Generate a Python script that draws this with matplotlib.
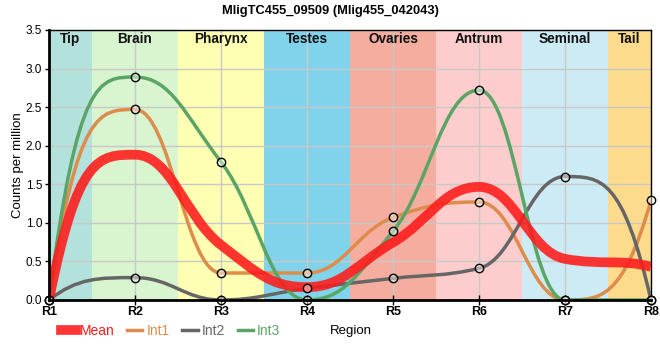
import numpy as np
import matplotlib.pyplot as plt
from matplotlib.lines import Line2D
from matplotlib.path import Path
from matplotlib.patches import PathPatch

plt.rcParams['font.family'] = ['Liberation Sans', 'DejaVu Sans']

regions = ['R1', 'R2', 'R3', 'R4', 'R5', 'R6', 'R7', 'R8']
int1 = [0.0, 2.47, 0.35, 0.35, 1.07, 1.27, 0.0, 1.29]
int2 = [0.0, 0.29, 0.0, 0.15, 0.28, 0.41, 1.60, 0.0]
int3 = [0.0, 2.89, 1.79, 0.0, 0.89, 2.72, 0.0, 0.0]

tissues = ['Tip', 'Brain', 'Pharynx', 'Testes', 'Ovaries', 'Antrum', 'Seminal', 'Tail']
tissue_colors = ['#b3e2dd', '#d8f5cf', '#ffffb3', '#80d3eb', '#f4ad9e',
                 '#fdcccc', '#cdebf4', '#fddb8c']

series_colors = {'Mean': '#ff1a1a', 'Int1': '#de8c4c', 'Int2': '#666666', 'Int3': '#5aa566'}


def smooth_path(xs, ys, a=0.42):
    # cubic bezier through the points, monotone slopes, long flat handles
    xs = np.asarray(xs, float)
    ys = np.asarray(ys, float)
    h = np.diff(xs)
    d = np.diff(ys) / h
    m = np.zeros_like(ys)
    for i in range(1, len(ys) - 1):
        if d[i - 1] * d[i] > 0:
            p = (d[i - 1] * h[i] + d[i] * h[i - 1]) / (h[i - 1] + h[i])
            m[i] = (np.sign(d[i - 1]) + np.sign(d[i])) * min(abs(d[i - 1]), abs(d[i]), 0.5 * abs(p))
    verts = [(xs[0], ys[0])]
    codes = [Path.MOVETO]
    last = len(xs) - 2
    for i in range(len(xs) - 1):
        x0, y0, x1, y1 = xs[i], ys[i], xs[i + 1], ys[i + 1]
        if i == 0:
            c1 = (x0 + h[i] / 3, y1)
        else:
            c1 = (x0 + a * h[i], y0 + a * h[i] * m[i])
        if i == last:
            c2 = (x1 - h[i] / 3, y0)
        else:
            c2 = (x1 - a * h[i], y1 - a * h[i] * m[i + 1])
        verts += [c1, c2, (x1, y1)]
        codes += [Path.CURVE4] * 3
    return Path(verts, codes)


x = np.arange(1, len(regions) + 1)
mean = np.mean([int1, int2, int3], axis=0)

fig = plt.figure(figsize=(6.6, 3.6), dpi=100)
ax = fig.add_axes([49 / 660, 1 - 300 / 360, 602 / 660, 270 / 360])

for i, (name, col) in enumerate(zip(tissues, tissue_colors)):
    left = max(x[i] - 0.5, x[0])
    right = min(x[i] + 0.5, x[-1])
    ax.axvspan(left, right, color=col, zorder=0, lw=0)
    ax.text((left + right) / 2, 3.38, name, ha='center', va='center',
            fontsize=9.8, fontweight='bold', color='#111111', zorder=5)

ax.grid(True, color='#c8c8c8', lw=1)
ax.set_axisbelow('line')

for name, vals in [('Int1', int1), ('Int2', int2), ('Int3', int3)]:
    ax.add_patch(PathPatch(smooth_path(x, vals), fc='none', ec=series_colors[name],
                           lw=2.5, zorder=3))

ax.add_patch(PathPatch(smooth_path(x, mean), fc='none', ec=series_colors['Mean'],
                       lw=7, alpha=0.88, zorder=4))

for vals in [int1, int2, int3]:
    ax.plot(x, vals, 'o', ms=6, mfc=(1, 1, 1, 0.45), mec='black', mew=1, zorder=6, clip_on=False)

ax.set_xlim(1, 8)
ax.set_ylim(0, 3.5)
ax.set_xticks(x)
ax.set_xticklabels(regions, fontsize=9, fontweight='bold')
ax.set_yticks(np.arange(0, 3.51, 0.5))
ax.set_yticklabels([f'{v:.1f}' for v in np.arange(0, 3.51, 0.5)], fontsize=8.5)
ax.tick_params(axis='y', length=3, width=1, pad=2)
ax.tick_params(axis='x', direction='inout', length=7, width=1, pad=1)
for side in ['left', 'bottom']:
    ax.spines[side].set_linewidth(2)
    ax.spines[side].set_zorder(7)
for side in ['top', 'right']:
    ax.spines[side].set_linewidth(1)
ax.set_ylabel('Counts per million', fontsize=9.5, labelpad=1)

fig.suptitle('MligTC455_09509 (Mlig455_042043)', fontsize=9.3, fontweight='bold', y=0.985)
fig.text(351 / 660, 1 - 331 / 360, 'Region', ha='center', va='center', fontsize=9.5)

handles = [Line2D([], [], color=series_colors['Mean'], lw=7, alpha=0.88),
           Line2D([], [], color=series_colors['Int1'], lw=2.5),
           Line2D([], [], color=series_colors['Int2'], lw=2.5),
           Line2D([], [], color=series_colors['Int3'], lw=2.5)]
fig.legend(handles, ['Mean', 'Int1', 'Int2', 'Int3'], loc='center left',
           bbox_to_anchor=(48 / 660, 1 - 331 / 360), ncol=4, frameon=False,
           handlelength=1.1, handletextpad=0.3, columnspacing=0.9,
           labelcolor='linecolor', prop={'size': 10})

fig.savefig('out.png', dpi=100)
